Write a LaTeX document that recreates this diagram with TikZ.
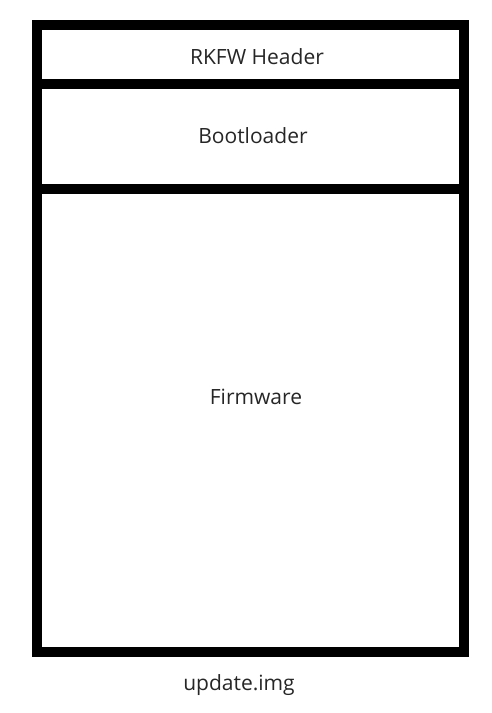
\documentclass[tikz,border=0pt]{standalone}
\usepackage{fontspec}
\setmainfont{Open Sans}
\begin{document}
\begin{tikzpicture}[x=1pt,y=-1pt,
  frame/.style={draw=black,line width=10pt},
  lbl/.style={font=\fontsize{21}{25}\selectfont,inner sep=0pt,text=black!85}]
\useasboundingbox (0,0) rectangle (491,713);
\draw[frame] (37,25) rectangle (464,652);
\draw[frame] (37,84) -- (464,84);
\draw[frame] (37,189) -- (464,189);
\node[lbl] (hdr) at (257,57) {RKFW Header};
\node[lbl] (boot) at (253,136) {Bootloader};
\node[lbl] (fw) at (256,397) {Firmware};
\node[lbl] (img) at (239,685) {update.img};
\end{tikzpicture}
\end{document}
